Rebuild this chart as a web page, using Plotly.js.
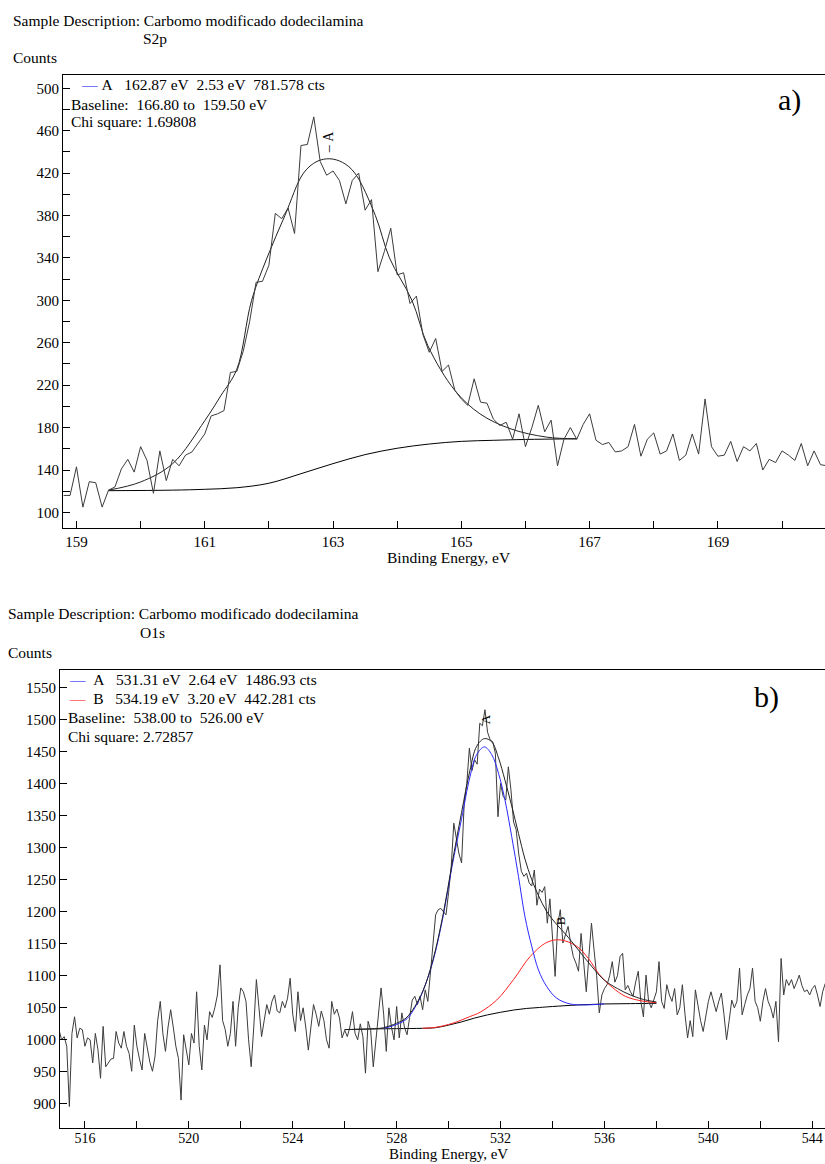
<!DOCTYPE html>
<html>
<head>
<meta charset="utf-8">
<script src="https://cdn.plot.ly/plotly-3.0.1.min.js"></script>
<style>
  html, body { margin: 0; padding: 0; background: #ffffff; }
  #chart { width: 825px; height: 1164px; }
</style>
</head>
<body>
<div id="chart"></div>
<script>
// ---------- Panel a) S2p ----------
const energyStartA = 158.8;
const energyStepA = 0.1;
const countsA = [
  116,116,143,105,129,128,105,121,124,141,
  150,138,162,149,118,158,130,150,144,154,
  157,166,174,191,193,196,232,233,252,280,
  317,318,333,382,377,387,363,446,447,473,
  431,418,422,413,391,413,420,385,395,327,
  346,368,324,326,297,304,268,251,264,233,
  239,215,207,201,226,204,203,188,182,185,
  169,193,162,180,201,176,187,144,169,180,
  169,183,193,168,164,166,157,158,162,183,
  153,169,175,155,158,174,149,154,174,155,
  207,162,153,154,167,148,162,158,165,140,
  150,147,158,154,149,165,144,158,145,144
];
const envA_x = [159.5,160.0,160.5,161.0,161.25,161.5,161.73,161.97,162.25,162.54,162.75,162.95,163.15,163.34,163.66,163.88,164.23,164.48,164.9,165.29,165.76,166.33,166.8];
const envA_y = [121,128.7,146,186.5,210,235,300,340,380,420,431,433.5,430,420,380,340,300,257,215,193,179,171,169.4];
const baseA_x = [159.5,160.5,161.0,161.5,162.0,162.5,163.0,163.5,164.0,164.5,165.0,165.5,166.0,166.8];
const baseA_y = [120.5,121,121.8,123.3,127.5,136.5,146,154.5,160.5,164.5,167,168,168.8,169.4];
const peakLabelsA = ["A"];
const peakLabelA_x = [162.92];
const peakLabelA_y = [450];
const tickValsAx = [159,161,163,165,167,169];
const headerA = ["Sample Description: Carbomo modificado dodecilamina", "S2p", "Counts"];
const legendA = [
  "A\u00a0\u00a0\u00a0162.87 eV\u00a0\u00a02.53 eV\u00a0\u00a0781.578 cts",
  "Baseline:\u00a0\u00a0166.80 to\u00a0\u00a0159.50 eV",
  "Chi square: 1.69808"
];

// ---------- Panel b) O1s ----------
const energyStartB = 515.0;
const energyStepB = 0.1;
const countsB = [
  1016,1000,1005,990,896,1010,1036,1003,1018,1016,
  990,1003,1000,964,1010,985,940,1021,958,965,
  970,971,1013,995,987,1013,990,979,951,1023,
  990,970,953,1010,990,965,951,975,1030,1060,
  1010,982,1020,1047,1020,990,971,906,1008,985,
  961,1010,995,1075,990,953,1023,1000,1044,1035,
  1050,1070,1117,1030,1016,990,1010,1060,990,1050,
  1081,1075,1060,1000,958,1020,1094,1050,1005,1030,
  1055,1040,1060,1070,1045,1042,1060,1050,1065,1096,
  1040,1013,1075,1030,1050,1020,984,1020,1055,1040,
  1021,1045,1030,1000,987,1060,1040,1048,1034,1003,
  1015,1005,1020,1044,1010,1000,1025,1005,948,1029,
  1015,958,1000,1040,1081,1040,982,1050,1020,1000,
  1052,1003,1042,1020,1008,1035,1062,1068,1055,1068,
  1047,1078,1060,1104,1150,1195,1203,1205,1200,1195,
  1230,1270,1338,1310,1290,1276,1369,1400,1455,1420,
  1437,1430,1494,1490,1515,1480,1468,1465,1447,1348,
  1400,1380,1374,1426,1390,1340,1328,1290,1263,1255,
  1260,1245,1240,1265,1210,1235,1230,1239,1182,1220,
  1150,1099,1180,1203,1151,1165,1177,1150,1130,1120,
  1107,1166,1120,1075,1130,1182,1140,1100,1042,1070,
  1080,1086,1100,1122,1090,1100,1130,1135,1078,1085,
  1075,1068,1090,1107,1060,1036,1101,1060,1050,1062,
  1075,1122,1060,1049,1086,1070,1060,1080,1039,1050,
  1086,1040,1003,1030,1005,1078,1050,1030,1013,1040,
  1060,1075,1060,1044,1060,1073,1040,1000,1030,1062,
  1050,1060,1112,1039,1055,1070,1080,1112,1060,1050,
  1029,1060,1080,1060,1050,1034,1060,997,1127,1070,
  1094,1085,1094,1080,1090,1101,1085,1075,1078,1070,
  1080,1085,1070,1052,1075,1088
];
const baseB_x = [526.0,527.0,528.0,529.0,529.5,530.0,530.5,531.0,531.5,532.0,532.5,533.0,533.5,534.0,535.0,536.0,537.0,538.0];
const baseB_y = [1016,1017,1017.5,1018,1019,1023,1028,1034,1039,1043,1046.5,1049,1050.5,1052,1054.5,1056,1056.5,1057];
const compA_x = [527.5,528.0,528.4,528.7,529.0,529.4,529.8,530.12,530.5,530.82,531.08,531.38,531.66,531.92,532.17,532.43,532.69,532.94,533.2,533.46,533.78,534.16,534.68,535.2,536.0];
const compA_y = [1018,1024,1033,1050,1075,1123,1195,1268,1345,1410,1445,1457,1445,1416,1374,1317,1255,1192,1146,1109,1083,1065,1056,1054.5,1056];
const compB_x = [529.0,529.5,530.0,530.31,530.8,531.21,531.85,532.5,533.14,533.78,534.29,534.93,535.38,535.8,536.3,536.8,537.4,538.0];
const compB_y = [1018,1019.5,1024,1028,1036,1043,1062,1094,1130,1152,1156,1146,1127,1102,1082,1068,1061,1058];
const envB_x = [526.0,527.0,527.5,528.0,528.36,528.7,529.03,529.4,529.8,530.12,530.5,530.82,531.08,531.38,531.66,531.92,532.17,532.43,532.69,532.94,533.2,533.46,533.78,534.16,534.5,535.0,535.5,536.0,536.5,537.0,537.5,538.0];
const envB_y = [1016,1017,1019,1026,1034,1052,1078,1125,1198,1272,1355,1420,1458,1470,1465,1440,1405,1365,1322,1282,1250,1225,1200,1180,1165,1140,1115,1093,1080,1070,1063,1059];
const peakLabelsB = ["A","B"];
const peakLabelB_x = [531.4,534.29];
const peakLabelB_y = [1500,1185];
const headerB = ["Sample Description: Carbomo modificado dodecilamina", "O1s", "Counts"];
const legendB = [
  "A\u00a0\u00a0\u00a0531.31 eV\u00a0\u00a02.64 eV\u00a0\u00a01486.93 cts",
  "B\u00a0\u00a0\u00a0534.19 eV\u00a0\u00a03.20 eV\u00a0\u00a0442.281 cts",
  "Baseline:\u00a0\u00a0538.00 to\u00a0\u00a0526.00 eV",
  "Chi square: 2.72857"
];
const xTitle = "Binding Energy, eV";

// ---------- build ----------
const W = 825, H = 1164;
const FONT = 'Liberation Serif, Times New Roman, serif';
const TXT = 15.5;
const px = v => v / W;
const py = v => 1 - v / H;

const xA = countsA.map((_, i) => +(energyStartA + energyStepA * i).toFixed(2));
const xB = countsB.map((_, i) => +(energyStartB + energyStepB * i).toFixed(2));

const dataColor = '#3c3c3c';
const traces = [
  {x: baseA_x, y: baseA_y, xaxis: 'x', yaxis: 'y', mode: 'lines', line: {color: '#000', width: 1, shape: 'spline'}},
  {x: envA_x, y: envA_y, xaxis: 'x', yaxis: 'y', mode: 'lines', line: {color: '#222', width: 1, shape: 'spline'}},
  {x: xA, y: countsA, xaxis: 'x', yaxis: 'y', mode: 'lines', line: {color: dataColor, width: 1}},

  {x: baseB_x, y: baseB_y, xaxis: 'x2', yaxis: 'y2', mode: 'lines', line: {color: '#000', width: 1, shape: 'spline'}},
  {x: xB, y: countsB, xaxis: 'x2', yaxis: 'y2', mode: 'lines', line: {color: dataColor, width: 1}},
  {x: compB_x, y: compB_y, xaxis: 'x2', yaxis: 'y2', mode: 'lines', line: {color: '#ff2020', width: 1, shape: 'spline'}},
  {x: compA_x, y: compA_y, xaxis: 'x2', yaxis: 'y2', mode: 'lines', line: {color: '#2a2aff', width: 1, shape: 'spline'}},
  {x: envB_x, y: envB_y, xaxis: 'x2', yaxis: 'y2', mode: 'lines', line: {color: '#222', width: 1, shape: 'spline'}}
];

const tickFont = {family: FONT, size: 15, color: '#000'};
const axBase = {
  showgrid: false, zeroline: false, showline: true, linecolor: '#000', linewidth: 1,
  ticks: 'inside', tickcolor: '#000', tickwidth: 1, tickfont: tickFont, fixedrange: true
};

const layout = {
  width: W, height: H,
  margin: {l: 0, r: 0, t: 0, b: 0},
  paper_bgcolor: '#fff', plot_bgcolor: '#fff',
  showlegend: false,
  font: {family: FONT, size: TXT, color: '#000'},
  xaxis: Object.assign({}, axBase, {
    domain: [px(63), 1], range: [158.79, 170.67], anchor: 'y',
    tickvals: tickValsAx, ticklen: 7, mirror: true,
    minor: {dtick: 1, tick0: 159, ticks: 'inside', ticklen: 7, tickcolor: '#000', showgrid: false}
  }),
  yaxis: Object.assign({}, axBase, {
    domain: [py(528), py(75)], range: [85.3, 512.5], anchor: 'x',
    dtick: 40, tick0: 100, ticklen: 7,
    minor: {dtick: 20, tick0: 100, ticks: 'inside', ticklen: 7, tickcolor: '#000', showgrid: false}
  }),
  xaxis2: Object.assign({}, axBase, {
    domain: [px(60), 1], range: [515.04, 544.49], anchor: 'y2',
    dtick: 4, tick0: 516, ticklen: 7, mirror: true,
    tickfont: {family: FONT, size: 14, color: '#000'}, ticklabelstandoff: -3,
    minor: {dtick: 2, tick0: 516, ticks: 'inside', ticklen: 7, tickcolor: '#000', showgrid: false}
  }),
  yaxis2: Object.assign({}, axBase, {
    domain: [py(1128.3), py(670)], range: [862, 1577], anchor: 'x2',
    dtick: 50, tick0: 900, ticklen: 7
  }),
  annotations: [],
  shapes: []
};

function txt(text, x, y, size, extra) {
  layout.annotations.push(Object.assign({
    text: text, x: px(x), y: py(y), xref: 'paper', yref: 'paper',
    xanchor: 'left', yanchor: 'middle', showarrow: false,
    font: {family: FONT, size: size || TXT, color: '#000'}
  }, extra || {}));
}

// Panel a header
txt(headerA[0], 11, 20);
txt(headerA[1], 141, 39);
txt(headerA[2], 11, 57);
// Panel a legend
txt('<span style="color:#0000ff">\u2014</span>\u00a0' + legendA[0], 79, 85);
txt(legendA[1], 69, 104);
txt(legendA[2], 69, 122);
txt('a)', 776, 100, 30);
txt(xTitle, 449, 557, TXT, {xanchor: 'center'});

// Panel b header
txt(headerB[0], 6, 613);
txt(headerB[1], 138, 632);
txt(headerB[2], 6, 652);
// Panel b legend
txt('<span style="color:#0000ff">\u2014</span>\u00a0\u00a0' + legendB[0], 67, 679);
txt('<span style="color:#ff0000">\u2014</span>\u00a0\u00a0' + legendB[1], 67, 698);
txt(legendB[2], 66, 717);
txt(legendB[3], 66, 736);
txt('b)', 752, 697, 30);
txt(xTitle, 449, 1164, 15, {xanchor: 'center', yanchor: 'bottom'});

// peak labels
peakLabelsA.forEach((t, i) => {
  layout.annotations.push({
    text: '\u2013\u00a0' + t, x: peakLabelA_x[i], y: peakLabelA_y[i], xref: 'x', yref: 'y',
    textangle: -90, showarrow: false, font: {family: FONT, size: 14, color: '#000'}
  });
});
peakLabelsB.forEach((t, i) => {
  layout.annotations.push({
    text: t, x: peakLabelB_x[i], y: peakLabelB_y[i], xref: 'x2', yref: 'y2',
    textangle: -90, showarrow: false, font: {family: FONT, size: 13, color: '#000'}
  });
});

Plotly.newPlot('chart', traces, layout, {displayModeBar: false, staticPlot: true});
</script>
</body>
</html>
